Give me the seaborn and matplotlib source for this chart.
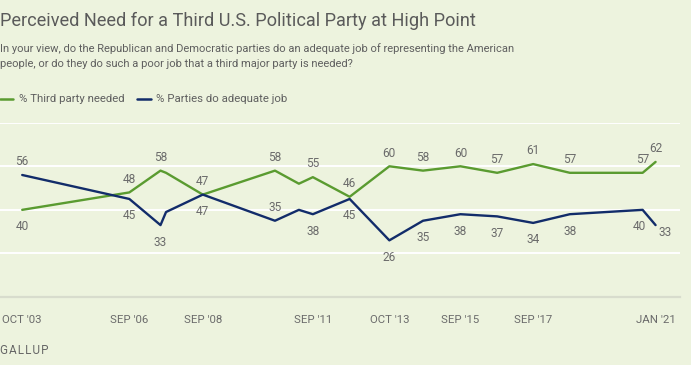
import matplotlib
matplotlib.use('Agg')
import matplotlib.pyplot as plt
from matplotlib import font_manager
import seaborn as sns
import pandas as pd

# Data (Gallup)
dates = ['2003-10-01', '2006-09-01', '2007-07-08', '2007-09-01', '2008-09-01',
         '2010-08-20', '2011-04-15', '2011-09-01', '2012-09-01', '2013-10-01',
         '2014-09-01', '2015-09-08', '2016-09-08', '2017-09-01', '2018-09-01',
         '2020-08-25', '2021-01-01']
third_party = [40, 48, 58, 57, 47, 58, 52, 55, 46, 60, 58, 60, 57, 61, 57, 57, 62]
adequate = [56, 45, 33, 39, 47, 35, 40, 38, 45, 26, 35, 38, 37, 34, 38, 40, 33]

# which points get a label and where: 'a' above, 'b' below, '' none
third_pos = ['b', 'a', 'a', '', 'a', 'a', '', 'a', 'a', 'a', 'a', 'a', 'a', 'a', 'a', 'a', 'a']
adequate_pos = ['a', 'b', 'b', '', 'b', 'a', '', 'b', 'b', 'b', 'b', 'b', 'b', 'b', 'b', 'bl', 'r']

tick_dates = ['2003-10-01', '2006-09-01', '2008-09-01', '2011-09-01', '2013-10-01',
              '2015-09-08', '2017-09-01', '2021-01-01']
tick_labels = ["OCT '03", "SEP '06", "SEP '08", "SEP '11", "OCT '13", "SEP '15", "SEP '17", "JAN '21"]

GREEN = '#5a9b30'
NAVY = '#122c6a'
BG = '#edf3de'
TXT = '#6b6b6b'

df = pd.DataFrame({'date': pd.to_datetime(dates), 'third': third_party, 'adequate': adequate})
long_df = df.melt(id_vars='date', var_name='series', value_name='pct')

sns.set_style('white')
names = {f.name for f in font_manager.fontManager.ttflist}
fam = 'Liberation Sans Narrow' if 'Liberation Sans Narrow' in names else 'Roboto'
plt.rcParams['font.family'] = [fam, 'DejaVu Sans']

fig = plt.figure(figsize=(6.91, 3.65), dpi=100, facecolor=BG)
ax = fig.add_axes([0, 68 / 365, 680 / 691, 174.3 / 365])
ax.set_facecolor(BG)

sns.lineplot(ax=ax, data=long_df, x='date', y='pct', hue='series',
             palette={'third': GREEN, 'adequate': NAVY}, linewidth=1.7, legend=False)

ax.set_ylim(0, 80)
ax.set_xlim(pd.Timestamp('2003-02-22'), pd.Timestamp('2021-09-01'))
ax.set_yticks([20, 40, 60, 80])
ax.yaxis.grid(True, color='white', linewidth=1.4)
ax.set_axisbelow(True)
ax.set_yticklabels([])
ax.tick_params(axis='y', length=0)
for s in ['top', 'right', 'left']:
    ax.spines[s].set_visible(False)
ax.spines['bottom'].set_color('#d8dccd')
ax.spines['bottom'].set_linewidth(1.6)
ax.set_xticks(pd.to_datetime(tick_dates))
ax.set_xticklabels(tick_labels, fontsize=8.2, color=TXT)
ax.tick_params(axis='x', length=7, width=1.6, color='white', pad=6)
ax.set_xlabel(None)
ax.set_ylabel(None)

offsets = {'a': (0, 9.5), 'b': (0, -12.2), 'bl': (-2, -12.2), 'r': (7, -5)}
for vals, pos in [(third_party, third_pos), (adequate, adequate_pos)]:
    for d, v, p in zip(df['date'], vals, pos):
        if not p:
            continue
        ax.annotate(str(v), (d, v), xytext=offsets[p], textcoords='offset points',
                    ha='center', va='center', fontsize=8.6, color=TXT, annotation_clip=False)

fig.text(0, 365 - 21, 'Perceived Need for a Third U.S. Political Party at High Point',
         transform=None, fontsize=13.1, color='#5a5a5a', va='center', ha='left')
fig.text(0, 365 - 49, 'In your view, do the Republican and Democratic parties do an adequate job of representing the American',
         transform=None, fontsize=8.05, color='#5f5f5f', va='center')
fig.text(0, 365 - 64, 'people, or do they do such a poor job that a third major party is needed?',
         transform=None, fontsize=8.05, color='#5f5f5f', va='center')

# legend
fig.lines.append(plt.Line2D([0, 13], [365 - 99, 365 - 99], transform=None, color=GREEN, linewidth=1.8))
fig.text(19, 365 - 99, '% Third party needed', transform=None, fontsize=8.2, color='#5f5f5f', va='center')
fig.lines.append(plt.Line2D([137, 151], [365 - 99, 365 - 99], transform=None, color=NAVY, linewidth=1.8))
fig.text(156, 365 - 99, '% Parties do adequate job', transform=None, fontsize=8.2, color='#5f5f5f', va='center')

fig.text(0, 365 - 350, 'G\u200aA\u200aL\u200aL\u200aU\u200aP', transform=None, fontsize=8.4,
         color='#666666', va='center')

fig.savefig('out.png', dpi=100, facecolor=BG)
